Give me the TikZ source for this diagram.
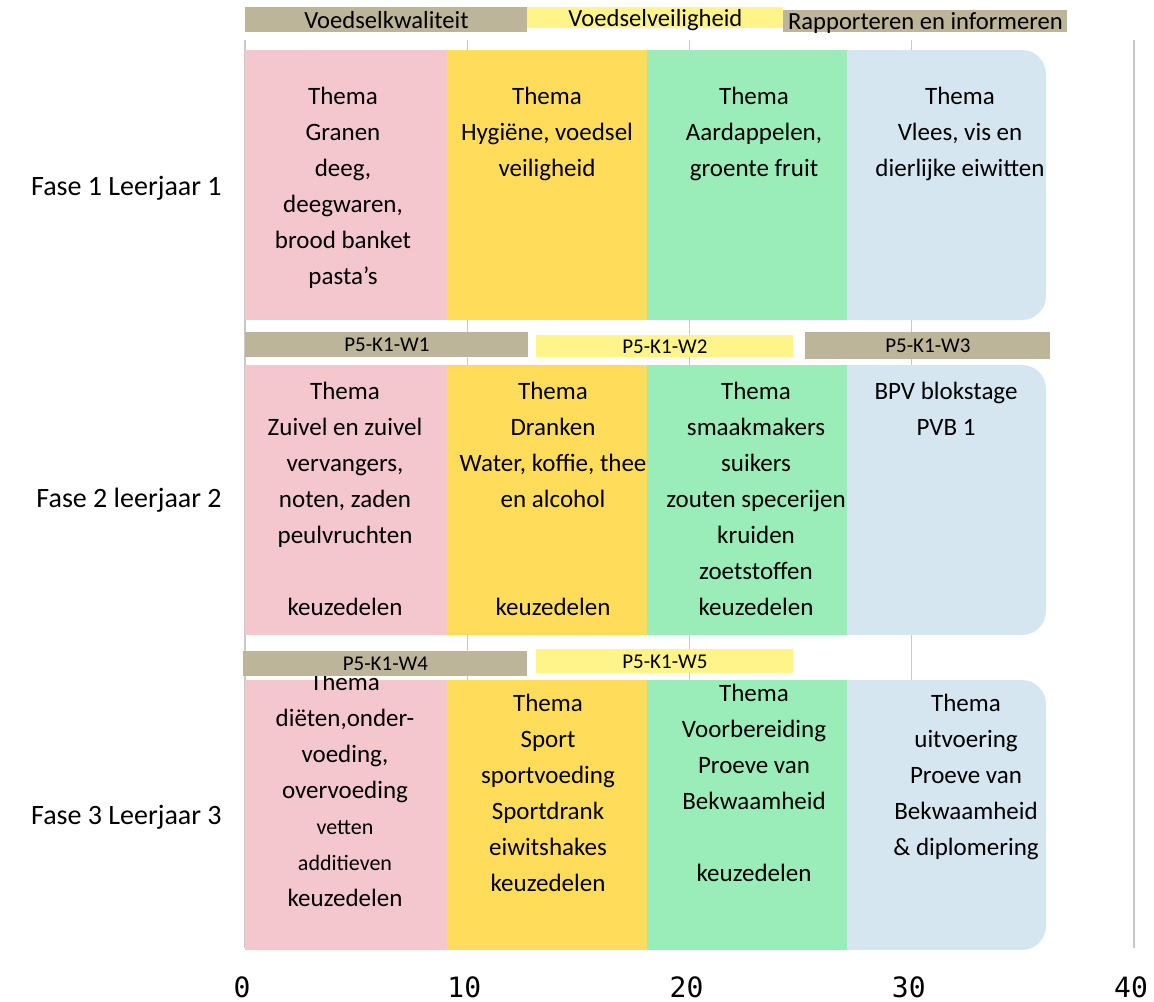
\documentclass[tikz,border=0pt]{standalone}
\usepackage{fontspec}
\setmainfont{Carlito}
\newfontfamily\cijferfont{DejaVu Sans Mono}
\usetikzlibrary{positioning}
\definecolor{roze}{RGB}{244,198,206}
\definecolor{geel}{RGB}{255,221,90}
\definecolor{groen}{RGB}{154,237,184}
\definecolor{blauw}{RGB}{213,230,240}
\definecolor{taupe}{RGB}{188,181,154}
\definecolor{lichtgeel}{RGB}{255,244,138}
\definecolor{raster}{RGB}{200,200,200}

\begin{document}
\begin{tikzpicture}[x=0.5pt, y=-0.5pt,
    cel/.style={anchor=north, align=center, inner sep=0pt, font=\fontsize{12.5}{18}\selectfont},
    balk/.style={anchor=north west, inner sep=0pt, text height=8.5pt, text depth=0pt, minimum height=12.5pt, font=\fontsize{12.3}{13}\selectfont},
    code/.style={anchor=north west, inner sep=0pt, text height=7pt, text depth=0pt, font=\fontsize{10.5}{12}\selectfont},
    fase/.style={anchor=east, inner sep=0pt, font=\fontsize{14}{16}\selectfont},
    as/.style={inner sep=0pt, font=\cijferfont\fontsize{14}{16}\selectfont}]

    \useasboundingbox (0,0) rectangle (1154,1001);

    \foreach \x in {0,10,20,30,40}
        \draw[raster, line width=0.7pt] (245+22.225*\x,40) -- (245+22.225*\x,948);
    \foreach \x in {0,10,20,30,40}
        \node[as] (as\x) at (242+22.225*\x,987) {\x};

    \foreach \t in {50,365,680} {
        \fill[blauw, rounded corners=12pt] (820,\t) rectangle (1046,\t+270);
        \fill[roze] (245,\t) rectangle (447,\t+270);
        \fill[geel] (447,\t) rectangle (647,\t+270);
        \fill[groen] (647,\t) rectangle (847,\t+270);
    }

    \node[fase] (fase1) at (222,188) {Fase 1 Leerjaar 1};
    \node[fase] (fase2) at (222,500) {Fase 2 leerjaar 2};
    \node[fase] (fase3) at (222,817) {Fase 3 Leerjaar 3};

    \node[cel] (granen) at (343,87) {Thema\\Granen\\deeg,\\deegwaren,\\brood banket\\pasta's};
    \node[cel] (hygiene) at (547,87) {Thema\\Hygiëne, voedsel\\veiligheid};
    \node[cel] (aardappel) at (754,87) {Thema\\Aardappelen,\\groente fruit};
    \node[cel] (vlees) at (960,87) {Thema\\Vlees, vis en\\dierlijke eiwitten};

    \node[cel] (zuivel) at (345,382) {Thema\\Zuivel en zuivel\\vervangers,\\noten, zaden\\peulvruchten\\\mbox{}\\keuzedelen};
    \node[cel] (dranken) at (553,382) {Thema\\Dranken\\Water, koffie, thee\\en alcohol\\\mbox{}\\\mbox{}\\keuzedelen};
    \node[cel] (smaak) at (756,382) {Thema\\smaakmakers\\suikers\\zouten specerijen\\kruiden\\zoetstoffen\\keuzedelen};
    \node[cel] (bpv) at (946,382) {BPV blokstage\\PVB 1};

    \node[cel] (dieet) at (345,673) {Thema\\diëten,onder-\\voeding,\\overvoeding\\{\fontsize{11}{13}\selectfont vetten}\\{\fontsize{11}{13}\selectfont additieven}\\keuzedelen};
    \node[cel] (sport) at (548,694) {Thema\\Sport\\sportvoeding\\Sportdrank\\eiwitshakes\\keuzedelen};
    \node[cel] (voorber) at (754,684) {Thema\\Voorbereiding\\Proeve van\\Bekwaamheid\\\mbox{}\\keuzedelen};
    \node[cel] (uitvoer) at (966,694) {Thema\\uitvoering\\Proeve van\\Bekwaamheid\\\& diplomering};

    \node[balk, fill=taupe, minimum width=141pt] (kwaliteit) at (245,7) {Voedselkwaliteit};
    \node[balk, fill=lichtgeel, minimum width=128pt, minimum height=10.5pt] (veiligheid) at (527,7) {Voedselveiligheid};
    \node[balk, fill=taupe, minimum width=142pt, minimum height=11pt] (rapport) at (783,10) {Rapporteren en informeren};

    \node[code, fill=taupe, minimum width=141.5pt, minimum height=12.5pt] (w1) at (245,332) {P5-K1-W1};
    \node[code, fill=lichtgeel, minimum width=128.5pt, minimum height=11pt] (w2) at (536,335) {P5-K1-W2};
    \node[code, fill=taupe, minimum width=122.5pt, minimum height=13.5pt] (w3) at (805,332) {P5-K1-W3};
    \node[code, fill=taupe, minimum width=142pt, minimum height=12.5pt] (w4) at (243,651) {P5-K1-W4};
    \node[code, fill=lichtgeel, minimum width=128.5pt, minimum height=12pt] (w5) at (536,649) {P5-K1-W5};
\end{tikzpicture}
\end{document}
